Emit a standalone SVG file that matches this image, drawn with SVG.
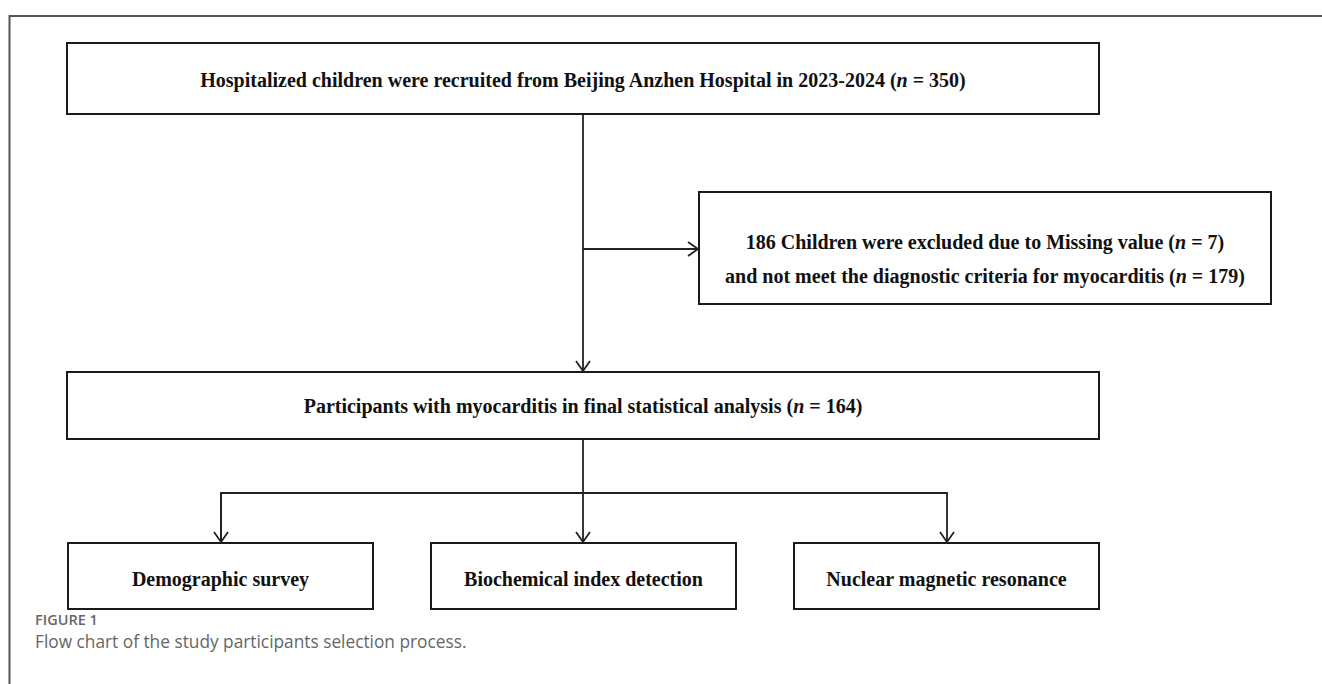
<svg xmlns="http://www.w3.org/2000/svg" width="1322" height="684" viewBox="0 0 1322 684">
<style>
.box{fill:#fff;stroke:#1a1a1a;stroke-width:2}
.t{font-family:"Liberation Serif","Times New Roman",serif;font-weight:bold;font-size:20px;fill:#111;text-anchor:middle}
.i{font-style:italic}
.c{fill:none;stroke:#222;stroke-width:1.8}
.frame{fill:none;stroke:#555;stroke-width:2}
.cap1{font-family:"Open Sans","Noto Sans",sans-serif;font-weight:600;font-size:14.5px;fill:#666}
.cap2{font-family:"Open Sans","Noto Sans",sans-serif;font-weight:400;font-size:17.3px;fill:#666}
</style>
<defs>
<marker id="ah" markerUnits="userSpaceOnUse" markerWidth="14" markerHeight="16" refX="11" refY="8" orient="auto" viewBox="0 0 14 16">
<path d="M1,1 L11,8 L1,15" fill="none" stroke="#222" stroke-width="1.8"/>
</marker>
</defs>
<rect width="1322" height="684" fill="#fff"/>
<path class="frame" d="M1322,16 L9.5,16 L9.5,684"/>
<g id="connectors">
<path class="c" d="M583,114 L583,371" marker-end="url(#ah)"/>
<path class="c" d="M583,249 L698,249" marker-end="url(#ah)"/>
<path class="c" d="M583,439 L583,542" marker-end="url(#ah)"/>
<path class="c" d="M221,542 L221,493 L947,493 L947,542" marker-end="url(#ah)"/>
<path class="c" d="M221,493 L221,542" marker-end="url(#ah)"/>
</g>
<g id="n1">
<rect class="box" x="67" y="43" width="1032" height="71"/>
<text class="t" x="583" y="87">Hospitalized children were recruited from Beijing Anzhen Hospital in 2023-2024 (<tspan class="i">n</tspan> = 350)</text>
</g>
<g id="n2">
<rect class="box" x="699" y="192" width="572" height="112"/>
<text class="t" x="985" y="249">186 Children were excluded due to Missing value (<tspan class="i">n</tspan> = 7)</text>
<text class="t" x="985" y="283">and not meet the diagnostic criteria for myocarditis (<tspan class="i">n</tspan> = 179)</text>
</g>
<g id="n3">
<rect class="box" x="67" y="372" width="1032" height="67"/>
<text class="t" x="583" y="413">Participants with myocarditis in final statistical analysis (<tspan class="i">n</tspan> = 164)</text>
</g>
<g id="n4">
<rect class="box" x="68" y="543" width="305" height="66"/>
<text class="t" x="220.5" y="586">Demographic survey</text>
</g>
<g id="n5">
<rect class="box" x="431" y="543" width="305" height="66"/>
<text class="t" x="583.5" y="586">Biochemical index detection</text>
</g>
<g id="n6">
<rect class="box" x="794" y="543" width="305" height="66"/>
<text class="t" x="946.5" y="586">Nuclear magnetic resonance</text>
</g>
<g id="caption">
<text class="cap1" x="35" y="625">FIGURE 1</text>
<text class="cap2" x="35" y="648">Flow chart of the study participants selection process.</text>
</g>
</svg>
